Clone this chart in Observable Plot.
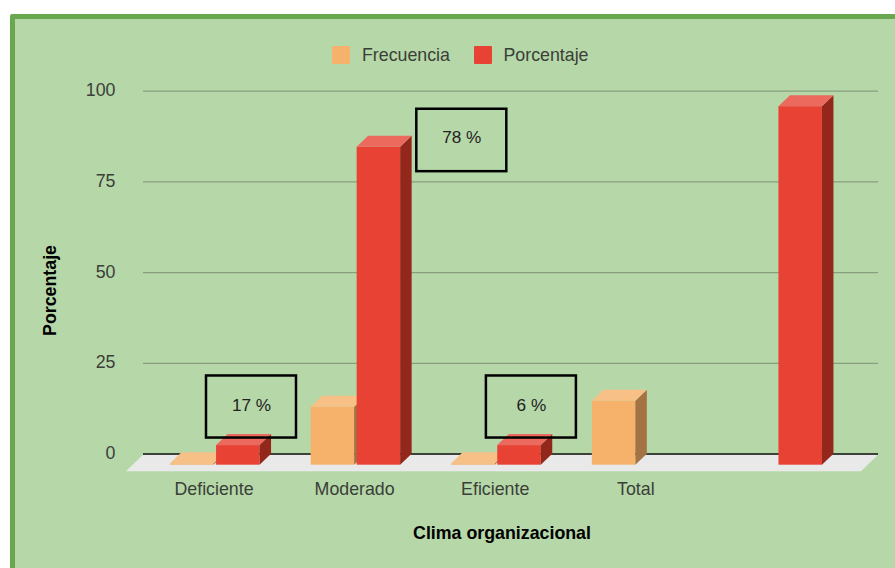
<!DOCTYPE html>
<html lang="es">
<head>
<meta charset="utf-8">
<script src="https://cdn.jsdelivr.net/npm/d3@7"></script>
<script src="https://cdn.jsdelivr.net/npm/@observablehq/plot@0.6"></script>
<style>
html,body{margin:0;padding:0;background:#fff;width:895px;height:568px;overflow:hidden}
#panel{position:absolute;left:0;top:0;width:895px;height:568px;font-family:"Liberation Sans",Arial,sans-serif}
#bg{position:absolute;left:9.5px;top:14px;width:900px;height:600px;box-sizing:border-box;background:#b6d7a8;border:5px solid #6aa84f;border-radius:2px}
#legend{position:absolute;left:0;top:0;width:895px;height:70px;font-size:17.8px;color:#3a3f38}
#legend span{position:absolute;line-height:20px;white-space:nowrap}
#legend i{position:absolute;width:18px;height:18px;border-radius:1px}
#chart{position:absolute;left:0;top:70px}
svg{display:block;background:transparent!important}
</style>
</head>
<body>
<div id="panel">
  <div id="bg"></div>
  <div id="legend">
    <i style="left:332px;top:46px;background:#f6b26b"></i><span style="left:362px;top:44.5px">Frecuencia</span>
    <i style="left:473.5px;top:46px;background:#e84235"></i><span style="left:503.5px;top:44.5px">Porcentaje</span>
  </div>
  <div id="chart"></div>
</div>
<script>
const categories = ["Deficiente", "Moderado", "Eficiente", "Total", ""];
const frecuencia = [0.4, 16, 0.4, 17.6, null];
const porcentaje = [5.4, 87.6, 5.4, null, 98.8];
const yTicks = [0, 25, 50, 75, 100];
const noteLabels = ["17 %", "78 %", "6 %"];
const noteCategories = ["Deficiente", "Moderado", "Eficiente"];
const noteLow = [4.4, 77.8, 4.4];
const noteHigh = [21.5, 95.0, 21.5];
const noteMid = [13.5, 87.2, 13.5];
const noteShift = [35.7, 105.4, 34.4];

const DEPTH_X = 11.5, DEPTH_Y = 11, BAR_W = 43.5, STEP = 140.6, NOTE_W = 90;
const BAR_INSET = (STEP - BAR_W) / 2;
const FRONT_DY = 11.2;
const ns = "http://www.w3.org/2000/svg";

function poly(points, fill) {
  const p = document.createElementNS(ns, "polygon");
  p.setAttribute("points", points.map(d => d.join(",")).join(" "));
  p.setAttribute("fill", fill);
  p.setAttribute("stroke", "none");
  return p;
}

function bars3d(values, fill, topFill, sideFill, dx) {
  const rows = categories.map((c, i) => ({c, v: values[i]})).filter(d => d.v != null);
  return Plot.rectY(rows, {
    x: "c", y: "v", fill, dx, dy: FRONT_DY,
    insetLeft: BAR_INSET, insetRight: BAR_INSET,
    render(index, scales, channels, dims, context, next) {
      const g = next(index, scales, channels, dims, context);
      const base = scales.y(0);
      for (const i of index) {
        const x0 = scales.x(rows[i].c) + BAR_INSET;
        const x1 = x0 + BAR_W;
        const yt = scales.y(rows[i].v);
        const side = poly([[x1, yt], [x1 + DEPTH_X, yt - DEPTH_Y], [x1 + DEPTH_X, base - DEPTH_Y], [x1, base]], sideFill);
        const top = poly([[x0, yt], [x1, yt], [x1 + DEPTH_X, yt - DEPTH_Y], [x0 + DEPTH_X, yt - DEPTH_Y]], topFill);
        g.append(side, top);
      }
      return g;
    }
  });
}

function floor(index, scales, channels, dims) {
  const g = document.createElementNS(ns, "g");
  const y0 = scales.y(0) + 1.2;
  const l = dims.marginLeft, r = dims.width - dims.marginRight;
  g.append(poly([[l, y0], [r, y0], [r - 17, y0 + 16.5], [l - 17, y0 + 16.5]], "#e9e9e9"));
  return g;
}

const notes = noteLabels.map((label, i) => ({label, c: noteCategories[i], lo: noteLow[i], hi: noteHigh[i], mid: noteMid[i], shift: noteShift[i]}));

const chart = Plot.plot({
  width: 895,
  height: 498,
  marginTop: 21,
  marginBottom: 114,
  marginLeft: 143,
  marginRight: 17,
  style: {background: "transparent", fontFamily: "'Liberation Sans', Arial, sans-serif", fontSize: "17.8px"},
  x: {type: "band", domain: categories, range: [145, 848], padding: 0, round: false, label: null},
  y: {domain: [0, 100], range: [383.5, 20.6], label: null},
  marks: [
    Plot.ruleY(yTicks.slice(1), {stroke: "#879f7e", strokeWidth: 1.3}),
    floor,
    Plot.ruleY([0], {stroke: "#111", strokeWidth: 1.5}),
    Plot.axisY({ticks: yTicks, tickSize: 0, tickPadding: 28, label: null, fill: "#3a3f38", dy: -0.5}),
    Plot.axisX({tickSize: 0, tickPadding: 27, label: null, fill: "#3a3f38", dx: -1.8, dy: 0.5}),
    bars3d(frecuencia, "#f6b26b", "#f6c086", "#a37344", -23.5),
    bars3d(porcentaje, "#e84235", "#ec695e", "#94271c", 22.5),
    ...notes.map(n => Plot.rectY([n], {
      x: "c", y1: "lo", y2: "hi", dx: n.shift,
      insetLeft: (STEP - NOTE_W) / 2, insetRight: (STEP - NOTE_W) / 2,
      fill: "none", stroke: "#000", strokeWidth: 2.5
    })),
    ...notes.map(n => Plot.text([n], {
      x: "c", y: "mid", text: "label", dx: n.shift, fill: "#222", fontSize: 17.2
    })),
    Plot.text(["Clima organizacional"], {
      frameAnchor: "bottom", dx: -9, dy: 79, fontWeight: "bold", fill: "#000", fontSize: 17.8, lineAnchor: "middle"
    }),
    Plot.text(["Porcentaje"], {
      frameAnchor: "left", dx: -93, dy: 17.5, rotate: -90, fontWeight: "bold", fill: "#000", fontSize: 17.8, textAnchor: "middle"
    })
  ]
});
document.getElementById("chart").append(chart);
</script>
</body>
</html>
